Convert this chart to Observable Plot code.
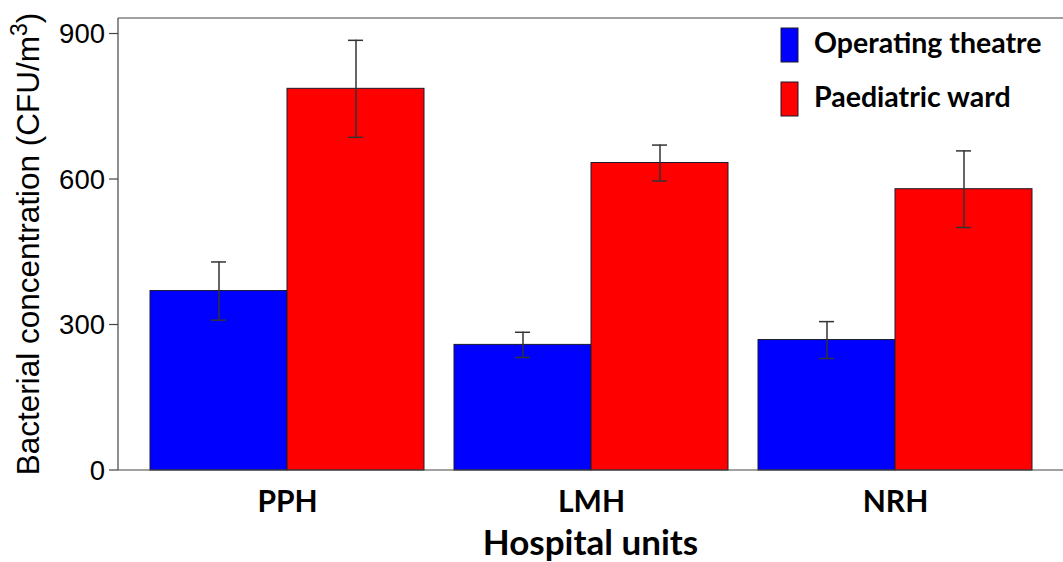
<!DOCTYPE html>
<html>
<head>
<meta charset="utf-8">
<script src="https://cdn.jsdelivr.net/npm/d3@7"></script>
<script src="https://cdn.jsdelivr.net/npm/@observablehq/plot@0.6"></script>
<style>
  body { margin: 0; background: #ffffff; }
  #chart { position: relative; width: 1063px; height: 562px; overflow: hidden; }
</style>
</head>
<body>
<div id="chart"></div>
<script>
// ---- data ----
const hospitals = ["PPH", "LMH", "NRH"];
const series = ["Operating theatre", "Paediatric ward"];
const operatingTheatre = [370, 259, 269];
const operatingTheatreErr = [60, 26, 38];
const paediatricWard = [787, 634, 580];
const paediatricWardErr = [100, 37, 79];
const seriesColors = ["#0000ff", "#ff0000"];
const yTicks = [0, 300, 600, 900];
const xTitle = "Hospital units";
const yTitleMain = "Bacterial concentration (CFU/m";
const yTitleSup = "3";
const yTitleEnd = ")";

const rows = hospitals.flatMap((h, i) => [
  {hospital: h, series: series[0], value: operatingTheatre[i], err: operatingTheatreErr[i]},
  {hospital: h, series: series[1], value: paediatricWard[i], err: paediatricWardErr[i]}
]);

const W = 1063, H = 562;
const plot = Plot.plot({
  width: W,
  height: H,
  marginLeft: 118,
  marginRight: 0,
  marginTop: 18,
  marginBottom: 92,
  style: {background: "#ffffff", color: "#000000", fontFamily: "'Liberation Sans', Arial, sans-serif", fontSize: "27px"},
  fx: {domain: hospitals, paddingInner: 0.1, paddingOuter: 0.1, axis: null, label: null},
  x: {domain: series, padding: 0, axis: null},
  y: {domain: [0, 932], axis: null},
  color: {domain: series, range: seriesColors},
  marks: [
    Plot.barY(rows, {fx: "hospital", x: "series", y: "value", fill: "series", stroke: "#1a1a2a", strokeWidth: 1}),
    Plot.ruleX(rows, {fx: "hospital", x: "series", y1: d => d.value - d.err, y2: d => d.value + d.err, stroke: "#333333", strokeWidth: 1.5}),
    Plot.tickY(rows, {fx: "hospital", x: "series", y: d => d.value + d.err, stroke: "#333333", strokeWidth: 1.5, inset: 61}),
    Plot.tickY(rows, {fx: "hospital", x: "series", y: d => d.value - d.err, stroke: "#333333", strokeWidth: 1.5, inset: 61}),
    Plot.text(hospitals, {fx: d => d, text: d => d, frameAnchor: "bottom", lineAnchor: "top", dy: 20,
      fontFamily: "Lato, 'Open Sans', sans-serif", fontWeight: "bold", fontSize: 30, fill: "#000000"})
  ]
});

const svg = d3.select(plot);
const y = plot.scale("y");
const fxr = plot.scale("fx").range;
const xL = Math.min(...fxr), xR = Math.max(...fxr);
const yTop = Math.min(...y.range), yBot = Math.max(...y.range);

// frame lines: left axis, top and bottom
const frame = svg.append("g").attr("stroke", "#444444").attr("stroke-width", 1.2);
frame.append("line").attr("x1", xL).attr("x2", xL).attr("y1", yTop).attr("y2", yBot);
frame.append("line").attr("x1", xL).attr("x2", xR).attr("y1", yTop).attr("y2", yTop);
frame.append("line").attr("x1", xL).attr("x2", xR).attr("y1", yBot).attr("y2", yBot);

// y axis ticks and labels on the frame's left edge, from Plot's y scale
const yAxis = svg.append("g");
yTicks.forEach(t => {
  const py = y.apply(t);
  yAxis.append("line").attr("x1", xL - 9).attr("x2", xL).attr("y1", py).attr("y2", py)
    .attr("stroke", "#444444").attr("stroke-width", 1.2);
  yAxis.append("text").attr("x", xL - 13).attr("y", py).attr("dy", "0.36em")
    .attr("text-anchor", "end")
    .attr("font-family", "'Liberation Sans', Arial, sans-serif")
    .attr("font-size", 27.5).attr("fill", "#000").text(String(t));
});

// x axis title
svg.append("text")
  .attr("x", (xL + xR) / 2).attr("y", 555)
  .attr("text-anchor", "middle")
  .attr("font-family", "Lato, 'Open Sans', sans-serif")
  .attr("font-weight", "bold").attr("font-size", 35).attr("fill", "#000")
  .text(xTitle);

// y axis title
const yt = svg.append("text")
  .attr("transform", `translate(39,${(yTop + yBot) / 2}) rotate(-90)`)
  .attr("text-anchor", "middle")
  .attr("font-family", "'Liberation Sans', Arial, sans-serif")
  .attr("font-size", 31.5).attr("fill", "#000");
yt.append("tspan").text(yTitleMain);
yt.append("tspan").attr("font-size", 23).attr("dy", -12).text(yTitleSup);
yt.append("tspan").attr("dy", 12).text(yTitleEnd);

// legend
const color = plot.scale("color");
const leg = svg.append("g").attr("text-anchor", "start");
series.forEach((s, i) => {
  const top = 28 + i * 54;
  leg.append("rect").attr("x", 781).attr("y", top).attr("width", 17).attr("height", 34)
    .attr("fill", color.apply(s)).attr("stroke", "#1a1a2a").attr("stroke-width", 1);
  leg.append("text").attr("x", 814).attr("y", top + 25)
    .attr("text-anchor", "start")
    .attr("font-family", "Lato, 'Open Sans', sans-serif").attr("font-weight", "bold")
    .attr("font-size", 28.5).attr("fill", "#000").text(s);
});

document.getElementById("chart").appendChild(plot);
</script>
</body>
</html>
